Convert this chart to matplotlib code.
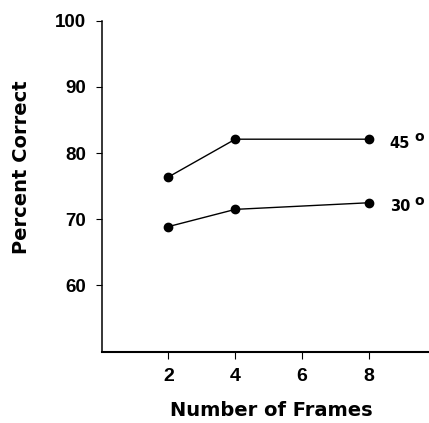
import matplotlib

matplotlib.use("Agg")
import matplotlib.pyplot as plt

# ── Data ──
frames = [2, 4, 8]
pct_45 = [76.4, 82.1, 82.1]
pct_30 = [68.9, 71.5, 72.5]
series = [("45", pct_45), ("30", pct_30)]

plt.rcParams.update({
    "font.family": ["Liberation Sans", "DejaVu Sans"],
    "font.weight": "bold",
    "axes.spines.top": False,
    "axes.spines.right": False,
})
WIDE = ["DejaVu Sans"]  # wider glyphs, closer to the spaced-out lettering

W, H = 429, 423
fig = plt.figure(figsize=(W / 100, H / 100), dpi=100)
ax = fig.add_axes([101.7 / W, 1 - 351.7 / H, (W - 101.7) / W, (351.7 - 20.7) / H])

for name, vals in series:
    ax.plot(frames, vals, "-o", color="black", lw=1.0, ms=6, clip_on=False)
    ax.annotate(name, (frames[-1], vals[-1]), xytext=(15, -3),
                textcoords="offset points", fontsize=10.5, fontweight="bold",
                family=WIDE, va="center")
    ax.annotate("o", (frames[-1], vals[-1]), xytext=(32.5, 1.5),
                textcoords="offset points", fontsize=10, fontweight="bold",
                family=WIDE, va="center")

ax.set_xlim(0, 9.8)
ax.set_ylim(50, 100)
ax.set_xticks([2, 4, 6, 8])
ax.set_yticks([60, 70, 80, 90, 100])
ax.tick_params(axis="x", direction="out", length=5, width=0.8, pad=7, labelsize=14)
ax.tick_params(axis="y", direction="out", length=4, width=0.8, pad=7, labelsize=13.5)
for lab in ax.get_xticklabels() + ax.get_yticklabels():
    lab.set_fontweight("bold")
ax.spines["left"].set_linewidth(1.1)
ax.spines["bottom"].set_linewidth(1.5)

fig.text(271 / W, 1 - 415.7 / H, "Number of Frames", fontsize=14,
         fontweight="bold", family=WIDE, ha="center", va="baseline")
fig.text(26.7 / W, 1 - 167 / H, "Percent Correct", fontsize=14,
         fontweight="bold", family=WIDE, ha="center", va="baseline",
         rotation=90, rotation_mode="anchor")

fig.savefig("out.png", dpi=100, facecolor="white")
